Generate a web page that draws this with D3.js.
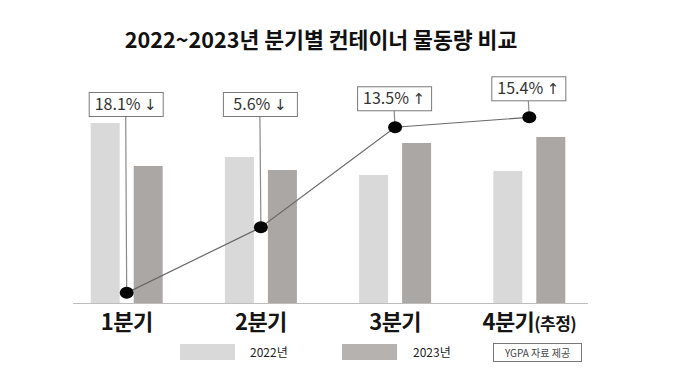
<!DOCTYPE html>
<html>
<head>
<meta charset="utf-8">
<script src="https://cdn.jsdelivr.net/npm/d3@7"></script>
<style>
  html, body { margin: 0; padding: 0; background: #fff; }
  svg { display: block; }
  text { font-family: "Noto Sans CJK KR", "Noto Sans", sans-serif; }
</style>
</head>
<body>
<svg id="chart" width="680" height="383"></svg>
<script>
// ---- data (bar values in relative units) ----
const quarters = ["1분기", "2분기", "3분기", "4분기"];
const quarterNotes = ["", "", "", "(추정)"];
const seriesNames = ["2022년", "2023년"];
const values2022 = [180, 146, 128, 132];
const values2023 = [137, 133, 160, 166];
const changePct = [-18.1, -5.6, 13.5, 15.4];
const titleText = "2022~2023년 분기별 컨테이너 물동량 비교";
const sourceText = "YGPA 자료 제공";

const colors = { "2022년": "#d9d9d9", "2023년": "#aba7a5" };

const svg = d3.select("#chart");
const W = 680, H = 383;
svg.append("rect").attr("width", W).attr("height", H).attr("fill", "#fff");

// title
svg.append("text")
  .attr("x", 321).attr("y", 48)
  .attr("text-anchor", "middle")
  .attr("font-size", 21.6).attr("font-weight", 700)
  .attr("fill", "#111")
  .text(titleText);

// scales
const x = d3.scaleBand().domain(quarters).range([59.6, 596.4]).paddingInner(0).paddingOuter(0);
const xs = d3.scaleBand().domain(seriesNames).range([0, 72]).paddingInner(0.3256);
const y = d3.scaleLinear().domain([0, 200]).range([303, 103]);
const yLine = d3.scaleLinear().domain([-25, 25]).range([329, 67]);

const rows = quarters.map((q, i) => ({
  q, i, note: quarterNotes[i],
  vals: [{ s: seriesNames[0], v: values2022[i] }, { s: seriesNames[1], v: values2023[i] }],
  pct: changePct[i]
}));

// bars
const g = svg.append("g");
rows.forEach(r => {
  const gx = x(r.q) + x.bandwidth() / 2 - 36;
  g.selectAll(null).data(r.vals).enter().append("rect")
    .attr("x", d => gx + xs(d.s))
    .attr("width", xs.bandwidth())
    .attr("y", d => y(d.v))
    .attr("height", d => y(0) - y(d.v))
    .attr("fill", d => colors[d.s]);
});

// baseline
svg.append("line")
  .attr("x1", 73).attr("x2", 588)
  .attr("y1", y(0) + 0.5).attr("y2", y(0) + 0.5)
  .attr("stroke", "#bdbdbd").attr("stroke-width", 1.2);

// x labels
const lab = svg.selectAll(".xl").data(rows).enter().append("text")
  .attr("class", "xl")
  .attr("x", d => x(d.q) + x.bandwidth() / 2)
  .attr("y", 330)
  .attr("text-anchor", "middle")
  .attr("font-weight", 700)
  .attr("fill", "#151515");
lab.append("tspan").attr("font-size", 22).attr("letter-spacing", -0.6).text(d => d.q);
lab.append("tspan").attr("font-size", 17).attr("letter-spacing", -0.6).text(d => d.note);

// line of change %
const cx = d => x(d.q) + x.bandwidth() / 2;
const lineGen = d3.line().x(d => cx(d)).y(d => yLine(d.pct));

// label boxes + leaders
const boxW = 74, boxH = 24;
rows.forEach(r => {
  const px = cx(r), py = yLine(r.pct);
  const top = Math.min(92, py - 17 - boxH);
  const bx = px - 1;
  svg.append("line")
    .attr("x1", bx).attr("y1", top + boxH)
    .attr("x2", px).attr("y2", py)
    .attr("stroke", "#8a8a8a").attr("stroke-width", 1.2);
  svg.append("rect")
    .attr("x", bx - boxW / 2 + 0.5).attr("y", top + 0.5)
    .attr("width", boxW).attr("height", boxH)
    .attr("fill", "#fff").attr("stroke", "#7a7a7a").attr("stroke-width", 1);
  const t = svg.append("text")
    .attr("x", bx).attr("y", top + 18)
    .attr("text-anchor", "middle")
    .attr("font-size", 16).attr("fill", "#333");
  t.append("tspan").text(Math.abs(r.pct).toFixed(1) + "% ");
  t.append("tspan").attr("font-family", "DejaVu Sans").attr("font-size", 15)
    .text(r.pct < 0 ? "↓" : "↑");
});

svg.append("path")
  .datum(rows)
  .attr("d", lineGen)
  .attr("fill", "none")
  .attr("stroke", "#6a6a6a").attr("stroke-width", 1.2);

svg.selectAll(".dot").data(rows).enter().append("ellipse")
  .attr("cx", cx).attr("cy", d => yLine(d.pct))
  .attr("rx", 7).attr("ry", 6)
  .attr("fill", "#050505");

// legend
const legend = [
  { s: seriesNames[0], bx: 180, tx: 250 },
  { s: seriesNames[1], bx: 342, tx: 413 }
];
legend.forEach(l => {
  svg.append("rect").attr("x", l.bx).attr("y", 344).attr("width", 55).attr("height", 16)
    .attr("fill", colors[l.s] === "#aba7a5" ? "#b5b2b0" : colors[l.s]);
  svg.append("text").attr("x", l.tx).attr("y", 357)
    .attr("font-size", 12).attr("fill", "#222").text(l.s);
});

// source box
svg.append("rect").attr("x", 493.5).attr("y", 343.5).attr("width", 88).attr("height", 18)
  .attr("fill", "#fff").attr("stroke", "#777");
svg.append("text").attr("x", 537.5).attr("y", 356.5).attr("text-anchor", "middle")
  .attr("font-size", 10).attr("fill", "#444").text(sourceText);
</script>
</body>
</html>
